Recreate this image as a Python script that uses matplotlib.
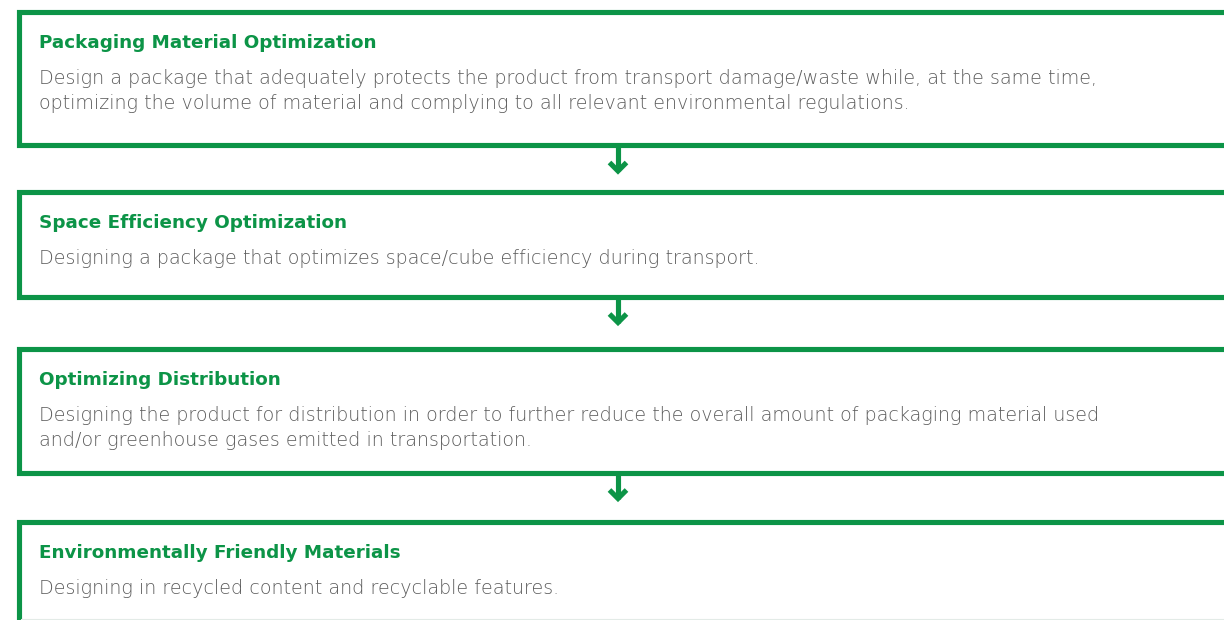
import matplotlib
matplotlib.use("Agg")
from matplotlib import pyplot as plt

# flow steps, top to bottom
titles = [
    "Packaging Material Optimization",
    "Space Efficiency Optimization",
    "Optimizing Distribution",
    "Environmentally Friendly Materials",
]
descriptions = [
    "Design a package that adequately protects the product from transport damage/waste while, at the same time,\n"
    "optimizing the volume of material and complying to all relevant environmental regulations.",
    "Designing a package that optimizes space/cube efficiency during transport.",
    "Designing the product for distribution in order to further reduce the overall amount of packaging material used\n"
    "and/or greenhouse gases emitted in transportation.",
    "Designing in recycled content and recyclable features.",
]

GREEN = "#0c9447"
GREY = "#5c5c5c"

# box edges in pixels (top, bottom)
box_top = [11.5, 191.5, 348.5, 521.5]
box_bot = [145, 296.5, 472.5, 640]
left = 18.5
right = 1240
lw = 3.7  # ~5 px

fig = plt.figure(figsize=(12.24, 6.2), dpi=100)
ax = fig.add_axes([0, 0, 1, 1])
ax.set_xlim(0, 1224)
ax.set_ylim(620, 0)
ax.axis("off")

for i, (t, d) in enumerate(zip(titles, descriptions)):
    top, bot = box_top[i], box_bot[i]
    ax.plot([right, left, left, right], [top, top, bot, bot],
            color=GREEN, lw=lw, solid_joinstyle="miter", solid_capstyle="projecting")
    ax.text(39, top + 36.5, t, color=GREEN, fontsize=13.2, fontweight="bold",
            family="DejaVu Sans", va="baseline", ha="left")
    lines = d.split("\n")
    for j, line in enumerate(lines):
        ax.text(39, top + 72.5 + 25 * j, line, color=GREY, fontsize=13.8,
                fontweight="light", family="DejaVu Sans", va="baseline", ha="left")

# arrows between boxes
ax_x = 618
for i in range(len(titles) - 1):
    y0 = box_bot[i] + 2
    tip = box_bot[i] + 29
    ax.plot([ax_x, ax_x], [y0, tip - 3], color=GREEN, lw=lw, solid_capstyle="butt")
    ax.plot([ax_x - 8.5, ax_x, ax_x + 8.5], [tip - 11.5, tip - 3, tip - 11.5],
            color=GREEN, lw=lw, solid_joinstyle="miter", solid_capstyle="butt")

# faint rule at the bottom edge
ax.plot([left + 2, 1224], [618.5, 618.5], color="#e3ebe7", lw=0.8)

fig.savefig("out.png", dpi=100)
